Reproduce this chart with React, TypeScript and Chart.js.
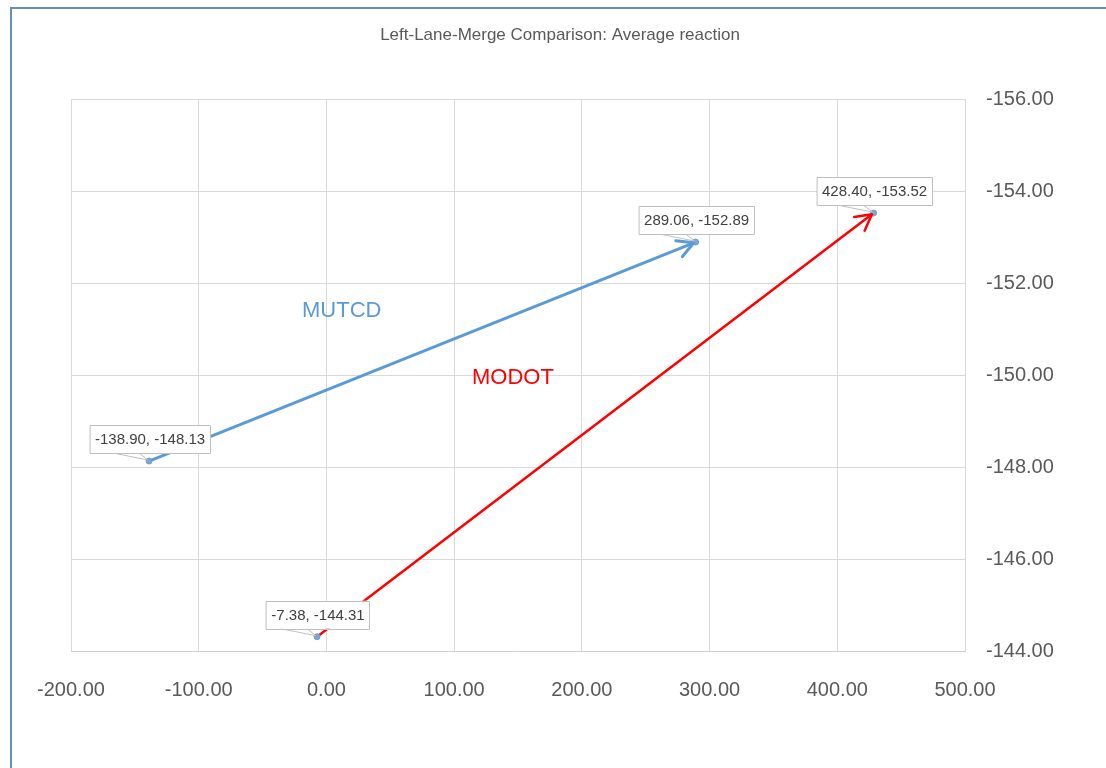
import React, { useEffect, useRef } from 'react';
import { Chart, registerables } from 'chart.js';

Chart.register(...registerables);

const TITLE = 'Left-Lane-Merge Comparison: Average reaction';
const SERIES_NAMES = ['MUTCD', 'MODOT'];
const SERIES_COLORS = ['#5B9BD5', '#FF0000'];
const SERIES_WIDTHS = [3, 2.5];
const MUTCD_X = [-138.9, 289.06];
const MUTCD_Y = [-148.13, -152.89];
const MODOT_X = [-7.38, 428.4];
const MODOT_Y = [-144.31, -153.52];
// where the series names sit (left edge / vertical centre), in data units
const NAME_LABEL_X = [-19.1, 114];
const NAME_LABEL_Y = [-151.39, -149.93];
const X_MIN = -200;
const X_MAX = 500;
const X_STEP = 100;
const Y_MIN = -156;
const Y_MAX = -144;
const Y_STEP = 2;

const toPoints = (xs: number[], ys: number[]) => xs.map((x, i) => ({ x, y: ys[i] }));

const decorPlugin = {
  id: 'decor',
  afterDatasetsDraw(chart: any) {
    const ctx = chart.ctx;
    const xs = chart.scales.x;
    const ys = chart.scales.y;
    ctx.save();
    // arrowheads
    chart.data.datasets.forEach((ds: any, di: number) => {
      const meta = chart.getDatasetMeta(di);
      const pts = meta.data;
      if (pts.length < 2) return;
      const p0 = pts[pts.length - 2];
      const p1 = pts[pts.length - 1];
      const ang = Math.atan2(p1.y - p0.y, p1.x - p0.x);
      const L = 18;
      const half = 0.5;
      const tx = p1.x - 2 * Math.cos(ang);
      const ty = p1.y - 2 * Math.sin(ang);
      ctx.strokeStyle = SERIES_COLORS[di];
      ctx.lineWidth = SERIES_WIDTHS[di];
      ctx.lineCap = 'round';
      ctx.lineJoin = 'round';
      ctx.beginPath();
      ctx.moveTo(tx - L * Math.cos(ang - half), ty - L * Math.sin(ang - half));
      ctx.lineTo(tx, ty);
      ctx.lineTo(tx - L * Math.cos(ang + half), ty - L * Math.sin(ang + half));
      ctx.stroke();
    });
    // data labels
    ctx.font = '15px "Liberation Sans", Arial, sans-serif';
    ctx.textBaseline = 'middle';
    ctx.textAlign = 'center';
    chart.data.datasets.forEach((ds: any, di: number) => {
      const meta = chart.getDatasetMeta(di);
      meta.data.forEach((el: any, i: number) => {
        const v = ds.data[i];
        const text = `${v.x.toFixed(2)}, ${v.y.toFixed(2)}`;
        const w = ctx.measureText(text).width + 10;
        const h = 28;
        const cx = el.x + 1;
        const bottom = el.y - 8;
        const top = bottom - h;
        const left = cx - w / 2;
        ctx.fillStyle = '#FFFFFF';
        ctx.strokeStyle = '#BFBFBF';
        ctx.lineWidth = 1;
        ctx.beginPath();
        ctx.moveTo(el.x - 36, bottom);
        ctx.lineTo(el.x - 1, el.y - 1);
        ctx.lineTo(el.x - 10, bottom);
        ctx.stroke();
        ctx.fillRect(left, top, w, h);
        ctx.strokeRect(Math.round(left) + 0.5, Math.round(top) + 0.5, Math.round(w), h);
        ctx.fillStyle = '#404040';
        ctx.fillText(text, cx, top + h / 2 + 1);
      });
    });
    // series names
    ctx.font = '22px "Liberation Sans", Arial, sans-serif';
    ctx.textAlign = 'left';
    SERIES_NAMES.forEach((name, i) => {
      ctx.fillStyle = SERIES_COLORS[i];
      ctx.fillText(name, xs.getPixelForValue(NAME_LABEL_X[i]), ys.getPixelForValue(NAME_LABEL_Y[i]));
    });
    ctx.restore();
  },
  afterDraw(chart: any) {
    const ctx = chart.ctx;
    ctx.save();
    ctx.font = '17px "Liberation Sans", Arial, sans-serif';
    ctx.fillStyle = '#595959';
    ctx.textAlign = 'center';
    ctx.textBaseline = 'middle';
    ctx.fillText(TITLE, 560, 35);
    ctx.restore();
  },
};

export default function App() {
  const ref = useRef<HTMLCanvasElement | null>(null);
  useEffect(() => {
    document.body.style.margin = '0';
    const canvas = ref.current!;
    const chart = new Chart(canvas, {
      type: 'scatter',
      data: {
        datasets: [
          {
            label: SERIES_NAMES[0],
            data: toPoints(MUTCD_X, MUTCD_Y),
            showLine: true,
            borderColor: SERIES_COLORS[0],
            borderWidth: SERIES_WIDTHS[0],
            pointRadius: 3,
            pointBackgroundColor: '#7AA6D6',
            pointBorderColor: '#6F9CCF',
            pointBorderWidth: 1,
          },
          {
            label: SERIES_NAMES[1],
            data: toPoints(MODOT_X, MODOT_Y),
            showLine: true,
            borderColor: SERIES_COLORS[1],
            borderWidth: SERIES_WIDTHS[1],
            pointRadius: 3,
            pointBackgroundColor: '#7AA6D6',
            pointBorderColor: '#6F9CCF',
            pointBorderWidth: 1,
          },
        ],
      },
      options: {
        responsive: false,
        animation: false,
        devicePixelRatio: 1,
        layout: { padding: { left: 71, top: 99, right: 0, bottom: 0 } },
        plugins: {
          legend: { display: false },
          title: { display: false },
          tooltip: { enabled: false },
        },
        scales: {
          x: {
            type: 'linear',
            min: X_MIN,
            max: X_MAX,
            afterFit: (s: any) => { s.height = 117; },
            grid: { color: '#D9D9D9', drawTicks: false },
            border: { color: '#D0D0D0' },
            ticks: {
              stepSize: X_STEP,
              padding: 27,
              color: '#595959',
              font: { family: '"Liberation Sans", Arial, sans-serif', size: 20 },
              callback: (v: any) => Number(v).toFixed(2),
              maxRotation: 0,
            },
          },
          y: {
            type: 'linear',
            position: 'right',
            reverse: true,
            min: Y_MIN,
            max: Y_MAX,
            afterFit: (s: any) => { s.width = 141; },
            grid: { color: '#D9D9D9', drawTicks: false },
            border: { color: '#D9D9D9' },
            ticks: {
              stepSize: Y_STEP,
              padding: 21,
              color: '#595959',
              font: { family: '"Liberation Sans", Arial, sans-serif', size: 20 },
              callback: (v: any) => Number(v).toFixed(2),
            },
          },
        },
      },
      plugins: [decorPlugin],
    });
    return () => chart.destroy();
  }, []);
  return (
    <div style={{ position: 'absolute', left: 0, top: 0, width: 1106, height: 768, background: '#fff' }}>
      <canvas ref={ref} width={1106} height={768} style={{ position: 'absolute', left: 0, top: 0 }} />
      <div
        style={{
          position: 'absolute',
          left: 10,
          top: 7,
          width: 1200,
          height: 800,
          borderLeft: '2px solid #6A8DB6',
          borderTop: '2px solid #6A8DB6',
          pointerEvents: 'none',
        }}
      />
    </div>
  );
}
